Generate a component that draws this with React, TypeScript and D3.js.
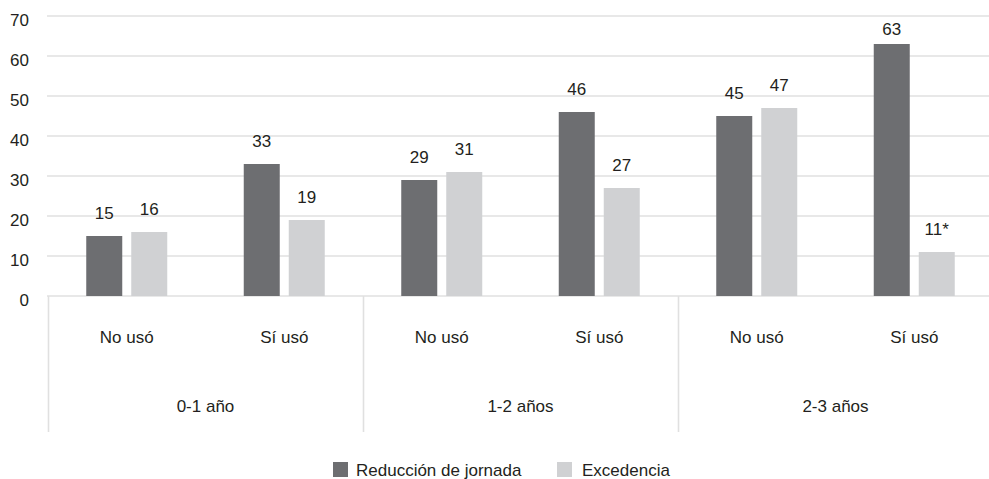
import React from 'react';
import * as d3 from 'd3';

// chart data
const groups = ['0-1 año', '1-2 años', '2-3 años'];
const usage = ['No usó', 'Sí usó'];
const series = ['Reducción de jornada', 'Excedencia'];
const reduccion = [15, 33, 29, 46, 45, 63];
const excedencia = [16, 19, 31, 27, 47, 11];
const excedenciaNote = ['', '', '', '', '', '*'];
const yTicks = [0, 10, 20, 30, 40, 50, 60, 70];

const colors = ['#6d6e71', '#d0d1d3'];
const gridColor = '#e0e0e0';
const font = '"Liberation Sans", Arial, Helvetica, sans-serif';

const width = 989;
const height = 479;
const margin = { top: 16, right: -4, left: 48, zero: 296 };

const App = () => {
  const subKeys = groups.flatMap(g => usage.map(u => `${g}|${u}`));

  const x0 = d3.scaleBand()
    .domain(groups)
    .range([margin.left, width - margin.right]);

  const xSub = d3.scaleBand()
    .domain(subKeys)
    .range([margin.left, width - margin.right]);

  const x1 = d3.scaleBand()
    .domain(series)
    .range([0, xSub.bandwidth()])
    .paddingInner(0.2)
    .paddingOuter(0.85);

  const y = d3.scaleLinear()
    .domain([0, 70])
    .range([margin.zero, margin.top]);

  const values = [reduccion, excedencia];

  const bars = subKeys.flatMap((k, i) =>
    series.map((s, j) => ({
      key: `${k}-${s}`,
      x: (xSub(k) || 0) + (x1(s) || 0),
      value: values[j][i],
      label: `${values[j][i]}${j === 1 ? excedenciaNote[i] : ''}`,
      color: colors[j],
    }))
  );

  const axisBottom = 432;

  return (
    <svg
      width={width}
      height={height}
      style={{ position: 'absolute', left: 0, top: 0, background: '#fff' }}
      fontFamily={font}
    >
      {/* gridlines */}
      {yTicks.map(t => (
        <line key={`g${t}`} x1={margin.left - 1} x2={width} y1={y(t)} y2={y(t)}
          stroke={gridColor} strokeWidth={1.6} />
      ))}
      {/* y tick labels */}
      {yTicks.map(t => (
        <text key={`t${t}`} x={29} y={y(t) + 10} textAnchor="end" fontSize={17} fill="#231f20">{t}</text>
      ))}
      {/* bars */}
      {bars.map(b => (
        <rect key={b.key} x={b.x} y={y(b.value)} width={x1.bandwidth()}
          height={y(0) - y(b.value)} fill={b.color} />
      ))}
      {/* value labels */}
      {bars.map(b => (
        <text key={`l${b.key}`} x={b.x + x1.bandwidth() / 2}
          y={Math.max(y(b.value) - 17, 35)} textAnchor="middle" fontSize={17} fill="#231f20">
          {b.label}
        </text>
      ))}
      {/* category axis dividers */}
      {groups.map(g => (
        <line key={`d${g}`} x1={(x0(g) || 0) + 0.5} x2={(x0(g) || 0) + 0.5}
          y1={margin.zero} y2={axisBottom} stroke={gridColor} strokeWidth={1.6} />
      ))}
      {/* subgroup labels */}
      {subKeys.map(k => (
        <text key={`s${k}`} x={(xSub(k) || 0) + xSub.bandwidth() / 2} y={343}
          textAnchor="middle" fontSize={17} fill="#231f20">{k.split('|')[1]}</text>
      ))}
      {/* group labels */}
      {groups.map(g => (
        <text key={`gl${g}`} x={(x0(g) || 0) + x0.bandwidth() / 2} y={412}
          textAnchor="middle" fontSize={17} fill="#231f20">{g}</text>
      ))}
      {/* legend */}
      {series.map((s, i) => {
        const lx = i === 0 ? 333 : 557;
        return (
          <g key={`lg${s}`} transform={`translate(${lx},0)`}>
            <rect x={0} y={462} width={15} height={15} fill={colors[i]} />
            <text x={i === 0 ? 23 : 25} y={476} fontSize={17} fill="#231f20">{s}</text>
          </g>
        );
      })}
    </svg>
  );
};

export default App;
